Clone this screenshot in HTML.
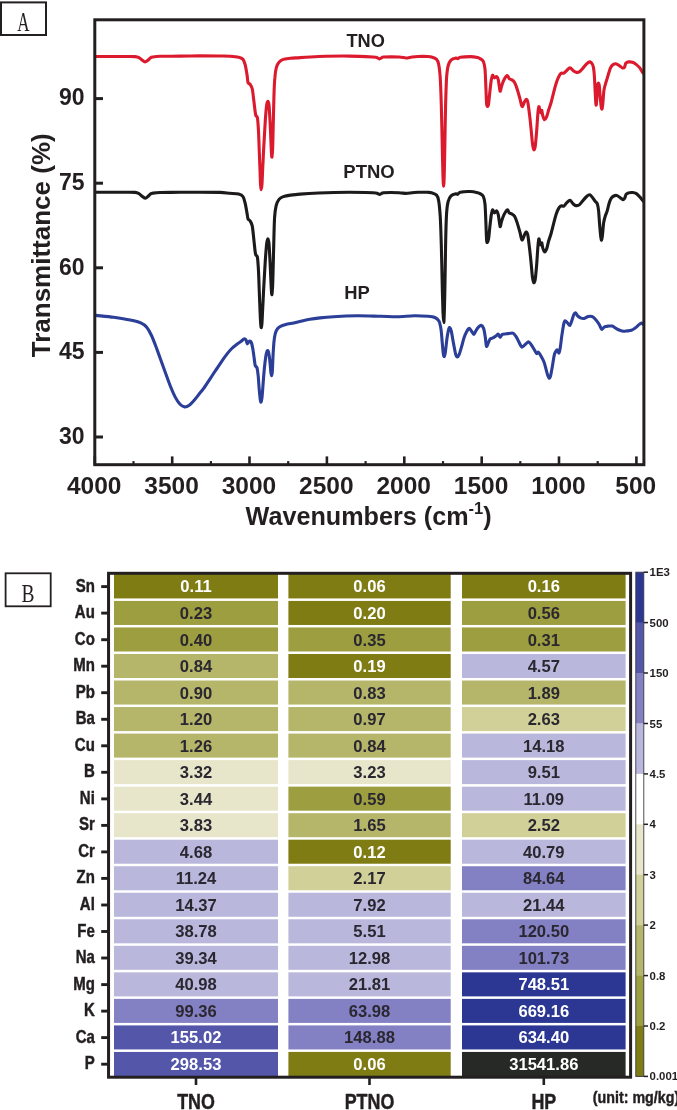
<!DOCTYPE html>
<html lang="en"><head><meta charset="utf-8"><title>FTIR spectra and element heatmap</title>
<style>html,body{margin:0;padding:0;background:#fff}svg{display:block;will-change:transform}text{font-family:'Liberation Sans', Arial, Helvetica, sans-serif;font-weight:bold;fill:#231f20}.serif{font-family:'Liberation Serif', 'Times New Roman', serif;font-weight:normal}.nw{stroke:#231f20;stroke-width:0.45px}</style></head><body>
<svg width="677" height="1110" viewBox="0 0 677 1110">
<rect width="677" height="1110" fill="#fff"/>
<rect x="1" y="2.4" width="45" height="32.6" fill="#fff" stroke="#231f20" stroke-width="2"/>
<text class="serif" transform="translate(23.3,31) scale(0.63,1)" text-anchor="middle" font-size="27">A</text>
<clipPath id="ca"><rect x="94.8" y="19.8" width="549.1" height="444.9"/></clipPath>
<g clip-path="url(#ca)" fill="none" stroke-linejoin="round" stroke-linecap="round" stroke-width="3.1">
<path d="M96.0,56.5 C98.0,56.5 105.9,56.5 110.0,56.5 C114.1,56.5 121.5,56.5 125.0,56.5 C128.5,56.5 133.0,56.4 135.0,56.6 C137.0,56.8 138.0,57.1 139.0,57.6 C140.0,58.1 141.2,59.4 142.0,60.0 C142.8,60.6 144.2,62.0 145.0,62.0 C145.8,62.0 147.2,60.8 148.0,60.2 C148.8,59.6 149.9,58.2 150.5,57.8 C151.1,57.4 151.3,57.2 152.6,57.0 C153.9,56.8 156.2,56.4 160.0,56.3 C163.8,56.2 174.4,56.2 180.0,56.1 C185.6,56.0 194.4,55.9 200.0,55.9 C205.6,55.9 215.8,55.9 220.0,56.0 C224.2,56.1 227.4,56.1 230.0,56.3 C232.6,56.5 236.8,56.9 238.6,57.3 C240.4,57.7 242.1,58.4 243.0,59.4 C243.9,60.4 244.5,62.4 245.1,64.5 C245.7,66.6 246.6,72.1 247.0,74.6 C247.4,77.1 247.6,81.1 248.0,82.5 C248.4,83.9 249.6,83.5 250.2,84.4 C250.8,85.3 251.8,86.7 252.3,89.0 C252.8,91.3 253.4,97.3 253.8,100.5 C254.2,103.7 254.9,109.9 255.2,112.0 C255.5,114.1 255.6,114.8 255.9,115.6 C256.2,116.4 257.0,115.9 257.4,117.8 C257.8,119.7 258.1,124.9 258.4,129.3 C258.7,133.7 259.0,143.9 259.2,149.5 C259.4,155.1 259.8,164.8 260.0,169.6 C260.2,174.4 260.3,181.2 260.5,184.0 C260.7,186.8 260.9,189.8 261.1,189.8 C261.3,189.8 261.8,187.2 262.0,184.0 C262.2,180.8 262.5,171.9 262.8,166.7 C263.1,161.5 263.4,153.0 263.8,146.6 C264.2,140.2 264.9,126.6 265.3,120.7 C265.7,114.8 266.3,107.5 266.7,104.8 C267.1,102.1 267.6,101.2 267.9,101.2 C268.2,101.2 268.7,102.1 269.0,104.8 C269.3,107.5 269.7,115.7 270.0,120.7 C270.3,125.7 270.7,136.0 270.9,140.8 C271.1,145.6 271.4,153.0 271.6,155.2 C271.8,157.4 271.9,157.5 272.0,156.7 C272.1,155.9 272.4,153.7 272.6,149.5 C272.8,145.3 273.0,133.7 273.2,126.4 C273.4,119.1 273.7,104.5 273.9,97.6 C274.1,90.7 274.5,81.6 274.9,77.4 C275.2,73.2 275.8,69.5 276.4,67.4 C277.0,65.3 278.0,63.4 279.0,62.3 C280.0,61.2 281.7,60.0 283.3,59.4 C284.9,58.8 288.2,58.6 290.5,58.3 C292.8,58.0 296.1,57.9 300.0,57.6 C303.9,57.3 311.7,56.7 318.6,56.5 C325.5,56.3 341.8,56.0 349.4,56.1 C357.0,56.2 369.1,56.8 373.0,57.0 C376.9,57.2 376.1,57.3 377.0,57.6 C377.9,57.9 378.9,58.9 379.6,58.9 C380.3,58.9 381.4,57.9 382.0,57.6 C382.6,57.3 381.2,57.1 383.6,57.0 C386.0,56.9 395.9,56.9 399.0,57.0 C402.1,57.1 404.2,58.0 406.0,58.0 C407.8,58.0 410.3,57.2 412.0,57.0 C413.7,56.8 415.8,56.6 418.0,56.5 C420.2,56.4 425.5,56.4 427.4,56.5 C429.3,56.6 430.2,56.6 431.5,57.0 C432.8,57.4 435.6,58.4 436.6,59.4 C437.6,60.4 438.2,62.0 438.7,64.5 C439.2,67.0 439.8,71.8 440.2,77.4 C440.6,83.0 441.0,94.9 441.3,104.8 C441.6,114.7 442.1,137.9 442.3,148.0 C442.5,158.1 442.8,171.5 443.0,176.8 C443.2,182.1 443.4,186.2 443.6,186.2 C443.8,186.2 444.0,182.1 444.2,176.8 C444.4,171.5 444.6,158.1 444.8,148.0 C445.0,137.9 445.3,114.7 445.6,104.8 C445.9,94.9 446.2,82.8 446.6,77.4 C447.0,72.0 447.5,68.4 448.1,66.0 C448.7,63.6 449.9,61.3 451.0,60.2 C452.1,59.1 455.1,58.2 456.0,58.0 C456.9,57.8 457.1,58.8 457.7,58.7 C458.3,58.6 458.5,57.6 460.3,57.3 C462.1,57.0 468.0,56.6 470.4,56.6 C472.8,56.6 476.3,57.3 477.6,57.6 C478.9,57.9 479.2,58.1 480.0,58.6 C480.8,59.1 482.6,59.8 483.3,61.3 C484.0,62.8 484.6,65.1 485.0,69.2 C485.4,73.3 485.8,85.7 486.0,90.5 C486.2,95.3 486.4,101.6 486.6,103.8 C486.8,106.0 487.3,106.5 487.6,106.5 C487.9,106.5 488.3,106.0 488.6,103.8 C488.9,101.6 489.6,93.8 490.0,90.5 C490.4,87.2 490.9,82.0 491.3,79.9 C491.7,77.8 492.2,75.5 492.6,75.2 C493.0,74.9 493.8,77.7 494.4,77.9 C495.0,78.1 496.1,76.3 496.6,76.6 C497.1,76.9 497.9,78.1 498.3,79.9 C498.7,81.7 499.4,87.6 499.7,89.2 C500.0,90.8 500.0,91.6 500.3,91.2 C500.6,90.8 501.0,88.1 501.5,86.5 C502.0,84.9 503.1,81.4 503.9,79.9 C504.7,78.4 506.6,75.8 507.3,75.6 C508.0,75.4 508.6,78.0 509.2,78.6 C509.8,79.2 511.1,79.4 511.9,79.9 C512.7,80.4 513.9,81.2 514.6,82.5 C515.3,83.8 516.5,87.0 517.2,89.2 C517.9,91.4 519.3,96.3 519.9,98.5 C520.5,100.7 521.1,104.0 521.5,105.1 C521.9,106.2 522.1,107.0 522.5,106.5 C522.9,106.0 524.0,102.8 524.5,101.8 C525.0,100.8 525.8,99.1 526.3,99.2 C526.8,99.3 527.5,100.4 527.9,102.5 C528.3,104.6 529.0,110.5 529.5,114.4 C530.0,118.3 530.8,126.3 531.2,130.4 C531.6,134.5 532.1,141.0 532.5,143.7 C532.9,146.4 533.4,149.3 533.8,149.7 C534.2,150.1 534.8,148.7 535.2,146.4 C535.6,144.1 536.1,137.6 536.5,133.1 C536.9,128.6 537.5,118.1 537.8,114.4 C538.1,110.7 538.6,106.9 538.9,106.5 C539.2,106.1 539.8,111.0 540.1,111.8 C540.4,112.6 541.0,112.7 541.2,112.5 C541.4,112.3 541.6,110.0 541.8,110.5 C542.0,111.0 542.4,114.5 542.8,115.8 C543.2,117.1 544.0,119.6 544.5,119.8 C545.0,120.0 545.9,118.4 546.5,117.1 C547.1,115.8 547.9,112.5 548.5,110.5 C549.1,108.5 550.4,105.1 551.1,102.5 C551.8,99.9 553.1,94.6 553.8,91.8 C554.5,89.0 555.7,84.7 556.4,82.5 C557.1,80.3 558.4,77.2 559.1,75.9 C559.8,74.6 560.7,73.6 561.4,73.2 C562.1,72.8 563.1,73.6 563.8,73.2 C564.5,72.8 565.7,71.4 566.6,70.6 C567.5,69.8 569.1,67.7 570.0,67.7 C570.9,67.7 572.5,70.2 573.3,70.8 C574.1,71.4 575.2,72.0 576.0,72.2 C576.8,72.4 578.4,72.4 579.3,71.9 C580.2,71.4 581.6,69.7 582.6,68.6 C583.6,67.5 585.6,64.8 586.6,63.9 C587.6,63.0 589.1,61.8 589.9,61.9 C590.7,62.0 592.0,63.4 592.6,64.6 C593.2,65.8 593.6,67.9 593.9,70.6 C594.2,73.3 594.6,79.8 594.8,83.9 C595.0,88.0 595.4,96.8 595.6,99.8 C595.8,102.8 596.0,105.7 596.2,105.1 C596.4,104.5 596.8,98.8 597.0,95.8 C597.2,92.8 597.6,85.4 597.9,83.9 C598.2,82.4 598.9,83.5 599.2,85.2 C599.5,86.9 599.8,92.8 600.1,95.8 C600.4,98.8 600.9,104.6 601.2,106.5 C601.5,108.4 601.8,109.5 602.0,109.1 C602.2,108.7 602.5,106.4 602.8,103.8 C603.1,101.2 603.5,93.5 603.9,90.5 C604.3,87.5 605.3,84.5 605.9,82.5 C606.5,80.5 607.3,77.9 607.9,75.9 C608.5,73.9 609.8,69.5 610.5,67.9 C611.2,66.3 612.4,65.2 613.2,64.6 C614.0,64.0 615.6,63.7 616.5,63.9 C617.4,64.1 619.0,65.3 619.8,65.9 C620.6,66.5 621.8,67.7 622.5,67.9 C623.2,68.1 624.0,67.9 624.5,67.3 C625.0,66.7 625.2,64.1 625.8,63.3 C626.4,62.5 627.6,62.0 628.5,61.9 C629.4,61.8 631.4,61.9 632.5,62.3 C633.6,62.7 635.4,63.8 636.4,64.6 C637.4,65.4 638.9,66.7 639.8,67.9 C640.7,69.1 642.6,72.5 643.1,73.2" stroke="#dc1a2e"/>
<path d="M96.0,192.3 C98.0,192.3 105.9,192.3 110.0,192.3 C114.1,192.3 121.5,192.3 125.0,192.3 C128.5,192.3 133.0,192.2 135.0,192.4 C137.0,192.6 138.0,193.1 139.0,193.6 C140.0,194.1 141.1,195.6 142.0,196.2 C142.9,196.8 144.7,198.2 145.5,198.2 C146.3,198.2 147.3,197.0 148.0,196.4 C148.7,195.8 149.9,194.4 150.5,194.0 C151.1,193.6 151.3,193.4 152.6,193.2 C153.9,193.0 156.2,192.6 160.0,192.5 C163.8,192.4 174.4,192.3 180.0,192.3 C185.6,192.3 194.4,192.2 200.0,192.2 C205.6,192.2 215.8,192.2 220.0,192.4 C224.2,192.6 227.4,193.1 230.0,193.3 C232.6,193.5 236.8,193.6 238.6,194.1 C240.4,194.6 242.1,195.4 243.0,196.6 C243.9,197.8 244.5,200.7 245.1,203.0 C245.7,205.3 246.6,210.9 247.0,213.1 C247.4,215.3 247.6,217.8 248.0,218.9 C248.4,220.0 249.6,220.0 250.2,221.0 C250.8,222.0 251.8,223.6 252.3,226.1 C252.8,228.6 253.4,235.5 253.8,239.1 C254.2,242.7 254.9,249.7 255.2,252.0 C255.5,254.3 255.6,254.5 255.9,255.2 C256.2,255.9 257.0,255.1 257.4,257.1 C257.8,259.1 258.1,264.8 258.4,269.3 C258.7,273.8 259.0,283.9 259.2,289.5 C259.4,295.1 259.8,304.8 260.0,309.6 C260.2,314.4 260.5,321.5 260.7,324.0 C260.9,326.5 261.1,327.8 261.3,327.6 C261.5,327.4 261.8,325.5 262.0,322.6 C262.2,319.7 262.5,311.7 262.8,306.7 C263.1,301.7 263.4,293.0 263.8,286.6 C264.2,280.2 264.9,266.7 265.3,260.7 C265.7,254.7 266.3,246.5 266.7,243.4 C267.1,240.3 267.6,238.8 267.9,238.8 C268.2,238.8 268.7,240.3 269.0,243.4 C269.3,246.5 269.7,255.5 270.0,260.7 C270.3,265.9 270.7,276.3 270.9,280.8 C271.1,285.3 271.4,291.2 271.6,293.1 C271.8,295.0 271.9,295.0 272.0,294.1 C272.1,293.2 272.4,290.5 272.6,286.6 C272.8,282.7 273.0,273.3 273.2,266.4 C273.4,259.5 273.7,244.5 273.9,237.6 C274.1,230.7 274.3,221.8 274.6,217.4 C274.9,213.0 275.5,208.4 276.1,205.9 C276.7,203.4 278.0,200.7 279.0,199.4 C280.0,198.1 281.7,197.2 283.3,196.6 C284.9,196.0 288.2,195.4 290.5,195.1 C292.8,194.8 296.1,194.4 300.0,194.1 C303.9,193.8 311.7,193.3 318.6,193.0 C325.5,192.7 341.8,192.3 349.4,192.3 C357.0,192.3 369.1,192.6 373.0,192.7 C376.9,192.8 376.1,193.1 377.0,193.3 C377.9,193.5 378.9,194.4 379.6,194.4 C380.3,194.4 381.4,193.5 382.0,193.3 C382.6,193.1 381.2,192.8 383.6,192.7 C386.0,192.6 395.9,192.6 399.0,192.7 C402.1,192.8 404.2,193.4 406.0,193.4 C407.8,193.4 410.3,192.9 412.0,192.7 C413.7,192.5 415.8,192.4 418.0,192.3 C420.2,192.2 425.5,192.2 427.4,192.3 C429.3,192.4 430.2,192.3 431.5,192.7 C432.8,193.1 435.6,194.0 436.6,195.1 C437.6,196.2 438.2,198.0 438.7,200.9 C439.2,203.8 439.8,209.9 440.2,216.0 C440.6,222.1 441.0,234.7 441.3,244.8 C441.6,254.9 442.1,278.5 442.3,288.0 C442.5,297.5 442.8,307.7 443.0,312.5 C443.2,317.3 443.6,322.6 443.8,322.6 C444.0,322.6 444.1,317.3 444.3,312.5 C444.5,307.7 444.7,297.5 444.9,288.0 C445.1,278.5 445.4,255.3 445.6,244.8 C445.8,234.3 446.2,219.1 446.6,213.1 C447.0,207.1 447.5,204.0 448.1,201.6 C448.7,199.2 449.9,196.9 451.0,195.8 C452.1,194.7 455.1,193.9 456.0,193.7 C456.9,193.5 457.1,194.6 457.7,194.4 C458.3,194.2 458.5,192.6 460.3,192.2 C462.1,191.8 468.0,191.4 470.4,191.5 C472.8,191.6 476.3,192.4 477.6,192.7 C478.9,193.0 479.2,193.1 480.0,193.6 C480.8,194.1 482.6,194.8 483.3,196.3 C484.0,197.8 484.6,200.1 485.0,204.2 C485.4,208.3 485.8,220.5 486.0,225.5 C486.2,230.5 486.4,237.7 486.6,240.1 C486.8,242.5 487.1,242.7 487.4,242.5 C487.7,242.3 488.2,241.2 488.6,238.8 C489.0,236.4 489.6,228.8 490.0,225.5 C490.4,222.2 490.9,217.1 491.3,214.9 C491.7,212.7 492.2,210.1 492.6,209.8 C493.0,209.5 493.8,212.7 494.4,212.9 C495.0,213.1 496.1,210.6 496.6,210.9 C497.1,211.2 497.9,213.0 498.3,214.9 C498.7,216.8 499.4,222.6 499.7,224.2 C500.0,225.8 500.0,227.0 500.3,226.6 C500.6,226.2 501.0,223.1 501.5,221.5 C502.0,219.9 503.1,216.5 503.9,214.9 C504.7,213.3 506.6,210.1 507.3,209.8 C508.0,209.5 508.6,212.3 509.2,212.9 C509.8,213.5 511.1,213.5 511.9,214.0 C512.7,214.5 513.9,215.0 514.6,216.2 C515.3,217.4 516.5,220.7 517.2,222.9 C517.9,225.1 519.3,230.0 519.9,232.2 C520.5,234.4 521.1,237.8 521.5,238.8 C521.9,239.9 522.1,240.3 522.5,239.7 C522.9,239.1 524.0,235.9 524.5,234.8 C525.0,233.7 525.8,231.8 526.3,231.9 C526.8,232.0 527.5,233.2 527.9,235.5 C528.3,237.8 529.0,244.1 529.5,248.1 C530.0,252.1 530.8,260.0 531.2,264.1 C531.6,268.2 532.1,274.8 532.5,277.4 C532.9,280.0 533.4,282.4 533.8,282.7 C534.2,283.0 534.8,281.6 535.2,279.4 C535.6,277.2 536.1,271.1 536.5,266.7 C536.9,262.3 537.5,252.0 537.8,248.1 C538.1,244.2 538.6,239.4 538.9,238.8 C539.2,238.2 539.8,243.3 540.1,244.1 C540.4,244.9 541.0,245.0 541.2,244.8 C541.4,244.6 541.6,242.3 541.8,242.8 C542.0,243.3 542.4,246.8 542.8,248.1 C543.2,249.4 544.0,251.6 544.5,251.8 C545.0,252.0 545.9,250.8 546.5,249.4 C547.1,248.0 547.9,243.7 548.5,241.5 C549.1,239.3 550.4,236.1 551.1,233.5 C551.8,230.9 553.1,225.7 553.8,222.9 C554.5,220.1 555.7,215.7 556.4,213.6 C557.1,211.5 558.4,208.7 559.1,207.6 C559.8,206.5 560.7,206.0 561.4,205.8 C562.1,205.6 563.1,206.6 563.8,206.2 C564.5,205.8 565.7,203.7 566.6,202.9 C567.5,202.1 569.1,200.1 570.0,200.3 C570.9,200.5 572.5,203.3 573.3,204.0 C574.1,204.7 575.2,205.5 576.0,205.6 C576.8,205.7 578.4,205.6 579.3,204.9 C580.2,204.2 581.6,202.1 582.6,200.9 C583.6,199.7 585.6,197.4 586.6,196.5 C587.6,195.6 589.1,194.5 589.9,194.7 C590.7,194.9 591.9,196.7 592.6,197.6 C593.3,198.5 594.2,200.1 594.8,200.9 C595.4,201.7 596.7,202.2 597.2,203.6 C597.7,205.0 598.3,208.0 598.6,210.9 C598.9,213.8 599.3,220.7 599.6,224.2 C599.9,227.7 600.4,234.0 600.7,236.2 C601.0,238.4 601.3,240.3 601.6,240.1 C601.9,239.9 602.2,237.2 602.5,234.8 C602.8,232.4 603.2,225.5 603.6,222.9 C604.0,220.3 604.7,217.9 605.2,216.2 C605.7,214.5 606.6,212.8 607.2,210.9 C607.8,209.0 608.6,204.7 609.2,202.9 C609.8,201.1 610.6,199.3 611.2,198.3 C611.8,197.3 613.0,196.4 613.8,196.0 C614.6,195.6 616.3,195.3 617.2,195.6 C618.1,195.9 619.7,197.3 620.5,197.9 C621.3,198.5 622.5,199.5 623.1,199.6 C623.7,199.7 624.3,199.0 624.7,198.3 C625.1,197.6 625.6,195.1 626.1,194.3 C626.6,193.5 627.6,193.2 628.5,192.9 C629.4,192.6 631.4,192.4 632.5,192.5 C633.6,192.6 635.4,193.0 636.4,193.6 C637.4,194.2 638.9,195.9 639.8,196.9 C640.7,197.9 642.6,200.3 643.1,200.9" stroke="#1c1a1b"/>
<path d="M96.0,315.4 C98.5,315.7 108.8,316.6 113.6,317.3 C118.4,318.0 126.4,319.3 130.2,320.1 C134.0,320.9 138.5,321.9 140.8,322.9 C143.1,323.9 145.2,325.4 146.7,327.2 C148.2,329.0 150.2,332.7 151.5,335.5 C152.8,338.3 154.9,343.8 156.2,347.3 C157.5,350.8 159.6,356.7 160.9,360.3 C162.2,363.9 164.3,369.7 165.6,373.3 C166.9,376.9 169.1,383.0 170.4,386.3 C171.7,389.6 173.8,394.4 175.1,396.9 C176.4,399.4 178.5,402.6 179.8,404.0 C181.1,405.4 183.3,406.7 184.6,406.9 C185.9,407.1 188.0,406.1 189.3,405.2 C190.6,404.3 192.7,402.0 194.0,400.5 C195.3,399.0 197.4,396.3 198.7,394.6 C200.0,392.9 202.2,390.5 203.5,388.7 C204.8,386.9 206.9,383.6 208.2,381.6 C209.5,379.6 211.6,376.5 212.9,374.5 C214.2,372.5 216.4,369.4 217.7,367.4 C219.0,365.4 221.1,362.2 222.4,360.3 C223.7,358.4 225.8,355.6 227.1,353.9 C228.4,352.2 230.5,349.8 231.8,348.5 C233.1,347.2 235.3,345.4 236.6,344.4 C237.9,343.4 240.3,342.0 241.3,341.2 C242.3,340.4 243.3,339.2 244.0,339.0 C244.7,338.8 245.5,339.2 246.0,339.9 C246.5,340.6 246.8,343.7 247.3,343.9 C247.8,344.1 248.7,341.4 249.3,341.2 C249.9,341.0 250.8,341.4 251.3,342.5 C251.8,343.6 252.5,347.0 252.9,349.2 C253.3,351.4 253.9,356.2 254.2,358.5 C254.5,360.8 254.9,364.5 255.3,365.8 C255.7,367.1 256.6,366.4 257.0,367.8 C257.4,369.2 257.9,372.8 258.2,375.8 C258.5,378.8 258.9,385.8 259.2,389.1 C259.5,392.4 260.0,397.9 260.3,399.7 C260.6,401.5 260.8,402.3 261.0,402.1 C261.2,401.9 261.6,400.8 261.9,398.4 C262.2,396.0 262.7,389.2 263.0,385.1 C263.3,381.0 263.9,373.2 264.3,369.1 C264.7,365.0 265.5,358.4 265.9,355.8 C266.3,353.2 267.1,350.9 267.5,350.5 C267.9,350.1 268.5,351.7 268.8,353.2 C269.1,354.7 269.6,358.6 269.9,361.2 C270.2,363.8 270.6,369.8 270.8,371.8 C271.0,373.8 271.4,375.8 271.6,375.8 C271.8,375.8 272.1,374.2 272.3,371.8 C272.5,369.4 272.7,362.6 272.9,358.5 C273.1,354.4 273.6,345.9 273.9,342.5 C274.2,339.1 274.7,335.8 275.2,333.9 C275.7,332.0 276.5,330.3 277.2,329.2 C277.9,328.1 279.3,326.9 280.5,326.3 C281.7,325.7 283.9,325.1 285.8,324.6 C287.7,324.1 291.6,323.4 293.8,322.9 C296.0,322.4 299.6,321.5 301.8,321.0 C304.0,320.5 307.3,319.7 309.8,319.3 C312.3,318.9 316.7,318.3 320.0,317.9 C323.3,317.5 328.4,317.0 333.6,316.7 C338.8,316.4 350.7,315.9 357.3,315.8 C363.9,315.7 375.3,316.2 380.9,316.3 C386.5,316.4 392.9,316.8 397.5,316.7 C402.1,316.6 409.7,315.9 414.0,315.8 C418.3,315.7 425.3,316.1 428.2,316.3 C431.1,316.5 433.4,316.8 434.9,317.5 C436.4,318.2 438.0,319.5 438.9,321.1 C439.8,322.7 440.5,326.2 441.0,329.2 C441.5,332.2 441.9,338.8 442.2,342.2 C442.5,345.6 443.0,351.6 443.3,353.6 C443.6,355.6 444.0,356.7 444.3,356.5 C444.6,356.3 445.0,354.7 445.4,352.0 C445.8,349.3 446.6,340.6 447.1,337.4 C447.6,334.2 448.3,330.6 448.7,329.2 C449.1,327.8 449.4,327.2 449.8,327.6 C450.2,328.0 450.9,329.4 451.4,331.7 C451.9,334.0 453.0,340.7 453.6,343.9 C454.2,347.1 455.2,352.6 455.7,354.4 C456.2,356.2 456.8,356.9 457.3,356.9 C457.8,356.9 458.6,355.9 459.2,354.4 C459.8,352.9 461.0,348.7 461.7,346.3 C462.4,343.9 463.4,339.4 464.1,337.4 C464.8,335.4 465.9,333.0 466.6,331.7 C467.3,330.4 468.6,328.4 469.3,328.4 C470.0,328.4 471.3,330.9 471.9,331.7 C472.5,332.5 473.3,334.6 473.9,334.4 C474.5,334.2 475.6,331.2 476.3,330.1 C477.0,329.0 478.0,327.5 478.7,326.8 C479.4,326.1 480.5,325.0 481.2,325.2 C481.9,325.4 483.0,326.8 483.6,328.4 C484.2,330.0 484.8,334.1 485.2,336.6 C485.6,339.1 486.1,345.4 486.5,346.3 C486.9,347.2 487.7,344.1 488.2,343.1 C488.7,342.1 489.4,339.8 490.1,339.0 C490.8,338.2 492.5,338.2 493.4,337.7 C494.3,337.2 495.9,335.9 496.6,335.4 C497.3,334.9 497.7,333.8 498.2,334.1 C498.7,334.4 499.6,337.4 500.2,337.4 C500.8,337.4 501.4,334.9 502.3,334.4 C503.2,333.9 505.3,334.0 506.4,333.8 C507.5,333.6 509.4,333.4 510.4,333.3 C511.4,333.2 512.4,332.8 513.2,333.3 C514.0,333.8 515.3,335.4 516.1,336.6 C516.9,337.8 518.2,340.7 519.0,342.2 C519.8,343.7 521.0,346.8 521.8,347.1 C522.6,347.5 524.1,345.5 525.0,344.7 C525.9,343.9 527.6,341.8 528.4,341.7 C529.2,341.6 530.2,343.2 531.0,344.3 C531.8,345.4 533.4,348.2 534.2,349.5 C535.0,350.8 536.1,353.1 536.7,353.5 C537.3,353.9 537.8,351.8 538.4,352.2 C539.0,352.6 540.3,354.8 541.1,356.2 C541.9,357.6 543.3,360.2 544.0,362.0 C544.7,363.8 545.4,366.8 545.9,368.7 C546.4,370.6 547.3,374.1 547.8,375.4 C548.3,376.7 549.0,378.3 549.4,378.3 C549.8,378.3 550.3,377.0 550.7,375.4 C551.1,373.8 551.8,369.6 552.3,366.8 C552.8,364.0 553.7,357.5 554.2,355.3 C554.7,353.1 555.5,351.9 555.9,351.1 C556.3,350.3 557.0,349.6 557.4,349.9 C557.8,350.2 558.6,353.3 559.0,353.0 C559.4,352.7 559.9,350.1 560.3,347.6 C560.7,345.1 561.4,338.3 561.9,335.1 C562.4,331.9 563.2,326.6 563.6,324.6 C564.0,322.6 564.5,320.9 565.1,320.7 C565.7,320.5 566.9,322.3 567.6,323.0 C568.3,323.7 569.3,325.8 569.9,325.5 C570.5,325.2 571.3,322.2 571.8,320.7 C572.3,319.2 573.3,315.7 573.8,314.6 C574.3,313.5 575.2,312.8 575.7,313.0 C576.2,313.2 576.9,315.2 577.6,315.9 C578.3,316.6 579.6,317.4 580.5,317.8 C581.4,318.2 583.2,318.6 584.3,318.4 C585.4,318.2 587.1,316.8 588.2,316.5 C589.3,316.2 591.1,316.2 592.0,316.5 C592.9,316.8 594.0,317.8 594.9,318.8 C595.8,319.8 597.9,322.4 598.7,323.6 C599.5,324.8 600.1,326.6 600.6,327.4 C601.1,328.2 601.5,329.5 602.0,329.4 C602.5,329.3 603.6,327.4 604.5,326.9 C605.4,326.4 607.2,326.2 608.3,326.1 C609.4,326.0 611.1,325.8 612.2,326.1 C613.3,326.4 614.9,327.8 616.0,328.4 C617.1,329.0 618.7,329.9 619.8,330.3 C620.9,330.7 622.6,331.2 623.7,331.3 C624.8,331.4 626.4,331.0 627.5,330.9 C628.6,330.8 630.3,330.7 631.4,330.3 C632.5,329.9 634.1,328.8 635.2,328.0 C636.3,327.2 638.1,325.3 639.0,324.6 C639.9,323.9 641.3,323.1 641.9,323.0 C642.5,322.9 642.8,324.0 643.0,324.2" stroke="#2c3f98"/>
</g>
<rect x="94.8" y="19.8" width="549.1" height="444.9" fill="none" stroke="#231f20" stroke-width="3"/>
<line x1="94.8" y1="98.6" x2="103.0" y2="98.6" stroke="#231f20" stroke-width="3"/>
<text x="84.6" y="105.3" text-anchor="end" font-size="23">90</text>
<line x1="94.8" y1="183.2" x2="103.0" y2="183.2" stroke="#231f20" stroke-width="3"/>
<text x="84.6" y="189.9" text-anchor="end" font-size="23">75</text>
<line x1="94.8" y1="267.8" x2="103.0" y2="267.8" stroke="#231f20" stroke-width="3"/>
<text x="84.6" y="274.5" text-anchor="end" font-size="23">60</text>
<line x1="94.8" y1="352.4" x2="103.0" y2="352.4" stroke="#231f20" stroke-width="3"/>
<text x="84.6" y="359.1" text-anchor="end" font-size="23">45</text>
<line x1="94.8" y1="437.0" x2="103.0" y2="437.0" stroke="#231f20" stroke-width="3"/>
<text x="84.6" y="443.7" text-anchor="end" font-size="23">30</text>
<line x1="94.8" y1="464.7" x2="94.8" y2="456.4" stroke="#231f20" stroke-width="2.6"/>
<text x="94.2" y="494" text-anchor="middle" font-size="24.5">4000</text>
<line x1="133.5" y1="464.7" x2="133.5" y2="461.09999999999997" stroke="#231f20" stroke-width="2.2"/>
<line x1="172.2" y1="464.7" x2="172.2" y2="456.4" stroke="#231f20" stroke-width="2.6"/>
<text x="171.6" y="494" text-anchor="middle" font-size="24.5">3500</text>
<line x1="210.9" y1="464.7" x2="210.9" y2="461.09999999999997" stroke="#231f20" stroke-width="2.2"/>
<line x1="249.5" y1="464.7" x2="249.5" y2="456.4" stroke="#231f20" stroke-width="2.6"/>
<text x="248.9" y="494" text-anchor="middle" font-size="24.5">3000</text>
<line x1="288.2" y1="464.7" x2="288.2" y2="461.09999999999997" stroke="#231f20" stroke-width="2.2"/>
<line x1="326.9" y1="464.7" x2="326.9" y2="456.4" stroke="#231f20" stroke-width="2.6"/>
<text x="326.3" y="494" text-anchor="middle" font-size="24.5">2500</text>
<line x1="365.6" y1="464.7" x2="365.6" y2="461.09999999999997" stroke="#231f20" stroke-width="2.2"/>
<line x1="404.3" y1="464.7" x2="404.3" y2="456.4" stroke="#231f20" stroke-width="2.6"/>
<text x="403.7" y="494" text-anchor="middle" font-size="24.5">2000</text>
<line x1="443.0" y1="464.7" x2="443.0" y2="461.09999999999997" stroke="#231f20" stroke-width="2.2"/>
<line x1="481.7" y1="464.7" x2="481.7" y2="456.4" stroke="#231f20" stroke-width="2.6"/>
<text x="481.1" y="494" text-anchor="middle" font-size="24.5">1500</text>
<line x1="520.3" y1="464.7" x2="520.3" y2="461.09999999999997" stroke="#231f20" stroke-width="2.2"/>
<line x1="559.0" y1="464.7" x2="559.0" y2="456.4" stroke="#231f20" stroke-width="2.6"/>
<text x="558.4" y="494" text-anchor="middle" font-size="24.5">1000</text>
<line x1="597.7" y1="464.7" x2="597.7" y2="461.09999999999997" stroke="#231f20" stroke-width="2.2"/>
<line x1="636.4" y1="464.7" x2="636.4" y2="456.4" stroke="#231f20" stroke-width="2.6"/>
<text x="635.8" y="494" text-anchor="middle" font-size="24.5">500</text>
<text transform="translate(50,245.3) rotate(-90)" text-anchor="middle" font-size="26">Transmittance (%)</text>
<text x="368.6" y="524.6" text-anchor="middle" font-size="25.2">Wavenumbers (cm<tspan font-size="16.5" dy="-10.6">-1</tspan><tspan dy="10.6">)</tspan></text>
<text x="365.7" y="47" text-anchor="middle" font-size="18.2">TNO</text>
<text x="369" y="177.8" text-anchor="middle" font-size="18.5">PTNO</text>
<text x="357.0" y="298.8" text-anchor="middle" font-size="18.4">HP</text>
<rect x="5.6" y="573.3" width="45.1" height="33" fill="#fff" stroke="#231f20" stroke-width="1.8"/>
<text class="serif" transform="translate(28,601.9) scale(0.78,1)" text-anchor="middle" font-size="25">B</text>
<rect x="114.0" y="573.15" width="164.0" height="25.28" fill="#7f7c14"/>
<text x="196.0" y="592.4" text-anchor="middle" font-size="16.6" style="fill:#ffffff">0.11</text>
<rect x="288.4" y="573.15" width="162.3" height="25.28" fill="#7f7c14"/>
<text x="369.5" y="592.4" text-anchor="middle" font-size="16.6" style="fill:#ffffff">0.06</text>
<rect x="462.0" y="573.15" width="163.6" height="25.28" fill="#7f7c14"/>
<text x="543.8" y="592.4" text-anchor="middle" font-size="16.6" style="fill:#ffffff">0.16</text>
<line x1="101.2" y1="586.6" x2="108.55" y2="586.6" stroke="#231f20" stroke-width="2.9"/>
<text class="nw" transform="translate(94.8,591.6) scale(0.82,1)" text-anchor="end" font-size="18.3">Sn</text>
<rect x="114.0" y="600.93" width="164.0" height="24.03" fill="#9d9e40"/>
<text x="196.0" y="618.9" text-anchor="middle" font-size="16.6" style="fill:#2a2730">0.23</text>
<rect x="288.4" y="600.93" width="162.3" height="24.03" fill="#7f7c14"/>
<text x="369.5" y="618.9" text-anchor="middle" font-size="16.6" style="fill:#ffffff">0.20</text>
<rect x="462.0" y="600.93" width="163.6" height="24.03" fill="#9d9e40"/>
<text x="543.8" y="618.9" text-anchor="middle" font-size="16.6" style="fill:#2a2730">0.56</text>
<line x1="101.2" y1="613.1" x2="108.55" y2="613.1" stroke="#231f20" stroke-width="2.9"/>
<text class="nw" transform="translate(94.8,618.1) scale(0.82,1)" text-anchor="end" font-size="18.3">Au</text>
<rect x="114.0" y="627.46" width="164.0" height="24.03" fill="#9d9e40"/>
<text x="196.0" y="645.5" text-anchor="middle" font-size="16.6" style="fill:#2a2730">0.40</text>
<rect x="288.4" y="627.46" width="162.3" height="24.03" fill="#9d9e40"/>
<text x="369.5" y="645.5" text-anchor="middle" font-size="16.6" style="fill:#2a2730">0.35</text>
<rect x="462.0" y="627.46" width="163.6" height="24.03" fill="#9d9e40"/>
<text x="543.8" y="645.5" text-anchor="middle" font-size="16.6" style="fill:#2a2730">0.31</text>
<line x1="101.2" y1="639.7" x2="108.55" y2="639.7" stroke="#231f20" stroke-width="2.9"/>
<text class="nw" transform="translate(94.8,644.7) scale(0.82,1)" text-anchor="end" font-size="18.3">Co</text>
<rect x="114.0" y="653.99" width="164.0" height="24.03" fill="#b5b66a"/>
<text x="196.0" y="672.0" text-anchor="middle" font-size="16.6" style="fill:#2a2730">0.84</text>
<rect x="288.4" y="653.99" width="162.3" height="24.03" fill="#7f7c14"/>
<text x="369.5" y="672.0" text-anchor="middle" font-size="16.6" style="fill:#ffffff">0.19</text>
<rect x="462.0" y="653.99" width="163.6" height="24.03" fill="#b9b8dc"/>
<text x="543.8" y="672.0" text-anchor="middle" font-size="16.6" style="fill:#2a2730">4.57</text>
<line x1="101.2" y1="666.2" x2="108.55" y2="666.2" stroke="#231f20" stroke-width="2.9"/>
<text class="nw" transform="translate(94.8,671.2) scale(0.82,1)" text-anchor="end" font-size="18.3">Mn</text>
<rect x="114.0" y="680.52" width="164.0" height="24.03" fill="#b5b66a"/>
<text x="196.0" y="698.5" text-anchor="middle" font-size="16.6" style="fill:#2a2730">0.90</text>
<rect x="288.4" y="680.52" width="162.3" height="24.03" fill="#b5b66a"/>
<text x="369.5" y="698.5" text-anchor="middle" font-size="16.6" style="fill:#2a2730">0.83</text>
<rect x="462.0" y="680.52" width="163.6" height="24.03" fill="#b5b66a"/>
<text x="543.8" y="698.5" text-anchor="middle" font-size="16.6" style="fill:#2a2730">1.89</text>
<line x1="101.2" y1="692.7" x2="108.55" y2="692.7" stroke="#231f20" stroke-width="2.9"/>
<text class="nw" transform="translate(94.8,697.7) scale(0.82,1)" text-anchor="end" font-size="18.3">Pb</text>
<rect x="114.0" y="707.05" width="164.0" height="24.03" fill="#b5b66a"/>
<text x="196.0" y="725.1" text-anchor="middle" font-size="16.6" style="fill:#2a2730">1.20</text>
<rect x="288.4" y="707.05" width="162.3" height="24.03" fill="#b5b66a"/>
<text x="369.5" y="725.1" text-anchor="middle" font-size="16.6" style="fill:#2a2730">0.97</text>
<rect x="462.0" y="707.05" width="163.6" height="24.03" fill="#d0d098"/>
<text x="543.8" y="725.1" text-anchor="middle" font-size="16.6" style="fill:#2a2730">2.63</text>
<line x1="101.2" y1="719.3" x2="108.55" y2="719.3" stroke="#231f20" stroke-width="2.9"/>
<text class="nw" transform="translate(94.8,724.3) scale(0.82,1)" text-anchor="end" font-size="18.3">Ba</text>
<rect x="114.0" y="733.58" width="164.0" height="24.03" fill="#b5b66a"/>
<text x="196.0" y="751.6" text-anchor="middle" font-size="16.6" style="fill:#2a2730">1.26</text>
<rect x="288.4" y="733.58" width="162.3" height="24.03" fill="#b5b66a"/>
<text x="369.5" y="751.6" text-anchor="middle" font-size="16.6" style="fill:#2a2730">0.84</text>
<rect x="462.0" y="733.58" width="163.6" height="24.03" fill="#b9b8dc"/>
<text x="543.8" y="751.6" text-anchor="middle" font-size="16.6" style="fill:#2a2730">14.18</text>
<line x1="101.2" y1="745.8" x2="108.55" y2="745.8" stroke="#231f20" stroke-width="2.9"/>
<text class="nw" transform="translate(94.8,750.8) scale(0.82,1)" text-anchor="end" font-size="18.3">Cu</text>
<rect x="114.0" y="760.11" width="164.0" height="24.03" fill="#e8e6ca"/>
<text x="196.0" y="778.1" text-anchor="middle" font-size="16.6" style="fill:#2a2730">3.32</text>
<rect x="288.4" y="760.11" width="162.3" height="24.03" fill="#e8e6ca"/>
<text x="369.5" y="778.1" text-anchor="middle" font-size="16.6" style="fill:#2a2730">3.23</text>
<rect x="462.0" y="760.11" width="163.6" height="24.03" fill="#b9b8dc"/>
<text x="543.8" y="778.1" text-anchor="middle" font-size="16.6" style="fill:#2a2730">9.51</text>
<line x1="101.2" y1="772.3" x2="108.55" y2="772.3" stroke="#231f20" stroke-width="2.9"/>
<text class="nw" transform="translate(94.8,777.3) scale(0.82,1)" text-anchor="end" font-size="18.3">B</text>
<rect x="114.0" y="786.64" width="164.0" height="24.03" fill="#e8e6ca"/>
<text x="196.0" y="804.7" text-anchor="middle" font-size="16.6" style="fill:#2a2730">3.44</text>
<rect x="288.4" y="786.64" width="162.3" height="24.03" fill="#9d9e40"/>
<text x="369.5" y="804.7" text-anchor="middle" font-size="16.6" style="fill:#2a2730">0.59</text>
<rect x="462.0" y="786.64" width="163.6" height="24.03" fill="#b9b8dc"/>
<text x="543.8" y="804.7" text-anchor="middle" font-size="16.6" style="fill:#2a2730">11.09</text>
<line x1="101.2" y1="798.9" x2="108.55" y2="798.9" stroke="#231f20" stroke-width="2.9"/>
<text class="nw" transform="translate(94.8,803.9) scale(0.82,1)" text-anchor="end" font-size="18.3">Ni</text>
<rect x="114.0" y="813.17" width="164.0" height="24.03" fill="#e8e6ca"/>
<text x="196.0" y="831.2" text-anchor="middle" font-size="16.6" style="fill:#2a2730">3.83</text>
<rect x="288.4" y="813.17" width="162.3" height="24.03" fill="#b5b66a"/>
<text x="369.5" y="831.2" text-anchor="middle" font-size="16.6" style="fill:#2a2730">1.65</text>
<rect x="462.0" y="813.17" width="163.6" height="24.03" fill="#d0d098"/>
<text x="543.8" y="831.2" text-anchor="middle" font-size="16.6" style="fill:#2a2730">2.52</text>
<line x1="101.2" y1="825.4" x2="108.55" y2="825.4" stroke="#231f20" stroke-width="2.9"/>
<text class="nw" transform="translate(94.8,830.4) scale(0.82,1)" text-anchor="end" font-size="18.3">Sr</text>
<rect x="114.0" y="839.70" width="164.0" height="24.03" fill="#b9b8dc"/>
<text x="196.0" y="857.7" text-anchor="middle" font-size="16.6" style="fill:#2a2730">4.68</text>
<rect x="288.4" y="839.70" width="162.3" height="24.03" fill="#7f7c14"/>
<text x="369.5" y="857.7" text-anchor="middle" font-size="16.6" style="fill:#ffffff">0.12</text>
<rect x="462.0" y="839.70" width="163.6" height="24.03" fill="#b9b8dc"/>
<text x="543.8" y="857.7" text-anchor="middle" font-size="16.6" style="fill:#2a2730">40.79</text>
<line x1="101.2" y1="851.9" x2="108.55" y2="851.9" stroke="#231f20" stroke-width="2.9"/>
<text class="nw" transform="translate(94.8,856.9) scale(0.82,1)" text-anchor="end" font-size="18.3">Cr</text>
<rect x="114.0" y="866.23" width="164.0" height="24.03" fill="#b9b8dc"/>
<text x="196.0" y="884.2" text-anchor="middle" font-size="16.6" style="fill:#2a2730">11.24</text>
<rect x="288.4" y="866.23" width="162.3" height="24.03" fill="#d0d098"/>
<text x="369.5" y="884.2" text-anchor="middle" font-size="16.6" style="fill:#2a2730">2.17</text>
<rect x="462.0" y="866.23" width="163.6" height="24.03" fill="#8381c4"/>
<text x="543.8" y="884.2" text-anchor="middle" font-size="16.6" style="fill:#2a2730">84.64</text>
<line x1="101.2" y1="878.4" x2="108.55" y2="878.4" stroke="#231f20" stroke-width="2.9"/>
<text class="nw" transform="translate(94.8,883.4) scale(0.82,1)" text-anchor="end" font-size="18.3">Zn</text>
<rect x="114.0" y="892.76" width="164.0" height="24.03" fill="#b9b8dc"/>
<text x="196.0" y="910.8" text-anchor="middle" font-size="16.6" style="fill:#2a2730">14.37</text>
<rect x="288.4" y="892.76" width="162.3" height="24.03" fill="#b9b8dc"/>
<text x="369.5" y="910.8" text-anchor="middle" font-size="16.6" style="fill:#2a2730">7.92</text>
<rect x="462.0" y="892.76" width="163.6" height="24.03" fill="#b9b8dc"/>
<text x="543.8" y="910.8" text-anchor="middle" font-size="16.6" style="fill:#2a2730">21.44</text>
<line x1="101.2" y1="905.0" x2="108.55" y2="905.0" stroke="#231f20" stroke-width="2.9"/>
<text class="nw" transform="translate(94.8,910.0) scale(0.82,1)" text-anchor="end" font-size="18.3">Al</text>
<rect x="114.0" y="919.29" width="164.0" height="24.03" fill="#b9b8dc"/>
<text x="196.0" y="937.3" text-anchor="middle" font-size="16.6" style="fill:#2a2730">38.78</text>
<rect x="288.4" y="919.29" width="162.3" height="24.03" fill="#b9b8dc"/>
<text x="369.5" y="937.3" text-anchor="middle" font-size="16.6" style="fill:#2a2730">5.51</text>
<rect x="462.0" y="919.29" width="163.6" height="24.03" fill="#8381c4"/>
<text x="543.8" y="937.3" text-anchor="middle" font-size="16.6" style="fill:#2a2730">120.50</text>
<line x1="101.2" y1="931.5" x2="108.55" y2="931.5" stroke="#231f20" stroke-width="2.9"/>
<text class="nw" transform="translate(94.8,936.5) scale(0.82,1)" text-anchor="end" font-size="18.3">Fe</text>
<rect x="114.0" y="945.82" width="164.0" height="24.03" fill="#b9b8dc"/>
<text x="196.0" y="963.8" text-anchor="middle" font-size="16.6" style="fill:#2a2730">39.34</text>
<rect x="288.4" y="945.82" width="162.3" height="24.03" fill="#b9b8dc"/>
<text x="369.5" y="963.8" text-anchor="middle" font-size="16.6" style="fill:#2a2730">12.98</text>
<rect x="462.0" y="945.82" width="163.6" height="24.03" fill="#8381c4"/>
<text x="543.8" y="963.8" text-anchor="middle" font-size="16.6" style="fill:#2a2730">101.73</text>
<line x1="101.2" y1="958.0" x2="108.55" y2="958.0" stroke="#231f20" stroke-width="2.9"/>
<text class="nw" transform="translate(94.8,963.0) scale(0.82,1)" text-anchor="end" font-size="18.3">Na</text>
<rect x="114.0" y="972.35" width="164.0" height="24.03" fill="#b9b8dc"/>
<text x="196.0" y="990.4" text-anchor="middle" font-size="16.6" style="fill:#2a2730">40.98</text>
<rect x="288.4" y="972.35" width="162.3" height="24.03" fill="#b9b8dc"/>
<text x="369.5" y="990.4" text-anchor="middle" font-size="16.6" style="fill:#2a2730">21.81</text>
<rect x="462.0" y="972.35" width="163.6" height="24.03" fill="#2b3793"/>
<text x="543.8" y="990.4" text-anchor="middle" font-size="16.6" style="fill:#ffffff">748.51</text>
<line x1="101.2" y1="984.6" x2="108.55" y2="984.6" stroke="#231f20" stroke-width="2.9"/>
<text class="nw" transform="translate(94.8,989.6) scale(0.82,1)" text-anchor="end" font-size="18.3">Mg</text>
<rect x="114.0" y="998.88" width="164.0" height="24.03" fill="#8381c4"/>
<text x="196.0" y="1016.9" text-anchor="middle" font-size="16.6" style="fill:#2a2730">99.36</text>
<rect x="288.4" y="998.88" width="162.3" height="24.03" fill="#8381c4"/>
<text x="369.5" y="1016.9" text-anchor="middle" font-size="16.6" style="fill:#2a2730">63.98</text>
<rect x="462.0" y="998.88" width="163.6" height="24.03" fill="#2b3793"/>
<text x="543.8" y="1016.9" text-anchor="middle" font-size="16.6" style="fill:#ffffff">669.16</text>
<line x1="101.2" y1="1011.1" x2="108.55" y2="1011.1" stroke="#231f20" stroke-width="2.9"/>
<text class="nw" transform="translate(94.8,1016.1) scale(0.82,1)" text-anchor="end" font-size="18.3">K</text>
<rect x="114.0" y="1025.41" width="164.0" height="24.03" fill="#5456aa"/>
<text x="196.0" y="1043.4" text-anchor="middle" font-size="16.6" style="fill:#ffffff">155.02</text>
<rect x="288.4" y="1025.41" width="162.3" height="24.03" fill="#8381c4"/>
<text x="369.5" y="1043.4" text-anchor="middle" font-size="16.6" style="fill:#2a2730">148.88</text>
<rect x="462.0" y="1025.41" width="163.6" height="24.03" fill="#2b3793"/>
<text x="543.8" y="1043.4" text-anchor="middle" font-size="16.6" style="fill:#ffffff">634.40</text>
<line x1="101.2" y1="1037.6" x2="108.55" y2="1037.6" stroke="#231f20" stroke-width="2.9"/>
<text class="nw" transform="translate(94.8,1042.6) scale(0.82,1)" text-anchor="end" font-size="18.3">Ca</text>
<rect x="114.0" y="1051.94" width="164.0" height="25.28" fill="#5456aa"/>
<text x="196.0" y="1070.0" text-anchor="middle" font-size="16.6" style="fill:#ffffff">298.53</text>
<rect x="288.4" y="1051.94" width="162.3" height="25.28" fill="#7f7c14"/>
<text x="369.5" y="1070.0" text-anchor="middle" font-size="16.6" style="fill:#ffffff">0.06</text>
<rect x="462.0" y="1051.94" width="163.6" height="25.28" fill="#272927"/>
<text x="543.8" y="1070.0" text-anchor="middle" font-size="16.6" style="fill:#ffffff">31541.86</text>
<line x1="101.2" y1="1064.2" x2="108.55" y2="1064.2" stroke="#231f20" stroke-width="2.9"/>
<text class="nw" transform="translate(94.8,1069.2) scale(0.82,1)" text-anchor="end" font-size="18.3">P</text>
<rect x="108.55" y="573.3" width="522.0500000000001" height="503.9000000000001" fill="none" stroke="#231f20" stroke-width="3"/>
<line x1="196.0" y1="1077.2" x2="196.0" y2="1085" stroke="#231f20" stroke-width="2.6"/>
<text class="nw" transform="translate(196.0,1108.7) scale(0.82,1)" text-anchor="middle" font-size="21.8">TNO</text>
<line x1="369.5" y1="1077.2" x2="369.5" y2="1085" stroke="#231f20" stroke-width="2.6"/>
<text class="nw" transform="translate(369.5,1108.7) scale(0.82,1)" text-anchor="middle" font-size="21.8">PTNO</text>
<line x1="543.8" y1="1077.2" x2="543.8" y2="1085" stroke="#231f20" stroke-width="2.6"/>
<text class="nw" transform="translate(543.8,1108.7) scale(0.82,1)" text-anchor="middle" font-size="21.8">HP</text>
<rect x="635.8" y="572.20" width="8.0" height="50.72" fill="#2b3793"/>
<rect x="635.8" y="622.62" width="8.0" height="50.72" fill="#5456aa"/>
<rect x="635.8" y="673.04" width="8.0" height="50.72" fill="#8381c4"/>
<rect x="635.8" y="723.46" width="8.0" height="50.72" fill="#b9b8dc"/>
<rect x="635.8" y="773.88" width="8.0" height="50.72" fill="#ffffff"/>
<rect x="635.8" y="824.30" width="8.0" height="50.72" fill="#e8e6ca"/>
<rect x="635.8" y="874.72" width="8.0" height="50.72" fill="#d0d098"/>
<rect x="635.8" y="925.14" width="8.0" height="50.72" fill="#b5b66a"/>
<rect x="635.8" y="975.56" width="8.0" height="50.72" fill="#9d9e40"/>
<rect x="635.8" y="1025.98" width="8.0" height="50.72" fill="#7f7c14"/>
<rect x="635.8" y="572.2" width="8.0" height="504.2" fill="none" stroke="#3a3a46" stroke-width="0.9"/>
<line x1="643.8" y1="572.2" x2="648" y2="572.2" stroke="#231f20" stroke-width="1.5"/>
<text x="649.6" y="576.2" font-size="11.4">1E3</text>
<line x1="643.8" y1="622.6" x2="648" y2="622.6" stroke="#231f20" stroke-width="1.5"/>
<text x="649.6" y="626.6" font-size="11.4">500</text>
<line x1="643.8" y1="673.0" x2="648" y2="673.0" stroke="#231f20" stroke-width="1.5"/>
<text x="649.6" y="677.0" font-size="11.4">150</text>
<line x1="643.8" y1="723.5" x2="648" y2="723.5" stroke="#231f20" stroke-width="1.5"/>
<text x="649.6" y="727.5" font-size="11.4">55</text>
<line x1="643.8" y1="773.9" x2="648" y2="773.9" stroke="#231f20" stroke-width="1.5"/>
<text x="649.6" y="777.9" font-size="11.4">4.5</text>
<line x1="643.8" y1="824.3" x2="648" y2="824.3" stroke="#231f20" stroke-width="1.5"/>
<text x="649.6" y="828.3" font-size="11.4">4</text>
<line x1="643.8" y1="874.7" x2="648" y2="874.7" stroke="#231f20" stroke-width="1.5"/>
<text x="649.6" y="878.7" font-size="11.4">3</text>
<line x1="643.8" y1="925.1" x2="648" y2="925.1" stroke="#231f20" stroke-width="1.5"/>
<text x="649.6" y="929.1" font-size="11.4">2</text>
<line x1="643.8" y1="975.6" x2="648" y2="975.6" stroke="#231f20" stroke-width="1.5"/>
<text x="649.6" y="979.6" font-size="11.4">0.8</text>
<line x1="643.8" y1="1026.0" x2="648" y2="1026.0" stroke="#231f20" stroke-width="1.5"/>
<text x="649.6" y="1030.0" font-size="11.4">0.2</text>
<line x1="643.8" y1="1076.4" x2="648" y2="1076.4" stroke="#231f20" stroke-width="1.5"/>
<text x="649.6" y="1080.4" font-size="11.4">0.001</text>
<text class="nw" transform="translate(592.8,1103.2) scale(0.83,1)" font-size="17.2">(unit: mg/kg)</text>
</svg></body></html>
